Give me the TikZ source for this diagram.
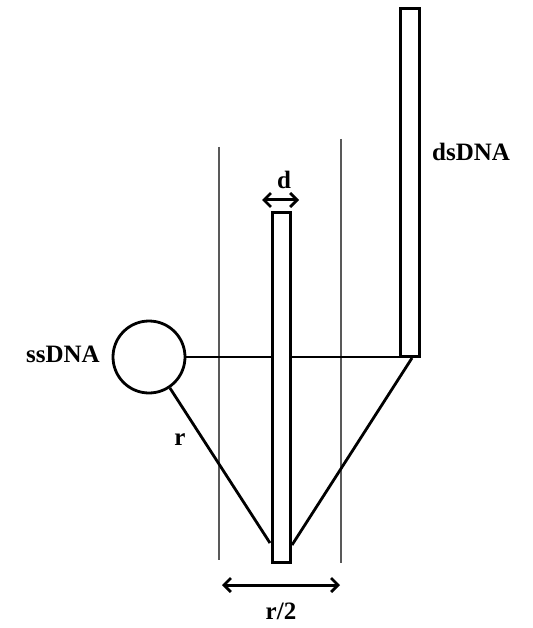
\documentclass[tikz,border=0pt]{standalone}
\usepackage{fontspec}
\setmainfont{Liberation Serif}
\usetikzlibrary{arrows.meta}
\begin{document}
\begin{tikzpicture}[x=1pt,y=-1pt,
  bar/.style={draw=black,line width=2.8pt,minimum width=19pt,inner sep=0pt,fill=white},
  heavy/.style={line width=2.8pt},
  guide/.style={line width=1.2pt,draw=black!65},
  dim/.style={line width=3pt,{Straight Barb[length=7pt,width=14pt,line width=2.8pt]}-{Straight Barb[length=7pt,width=14pt,line width=2.8pt]}},
  lbl/.style={font=\bfseries\fontsize{25}{28}\selectfont,inner sep=0pt}]
\useasboundingbox (0,0) rectangle (532,628);
% guide lines
\coordinate (g1t) at (219,147); \coordinate (g1b) at (219,560);
\coordinate (g2t) at (341,139); \coordinate (g2b) at (341,563);
\draw[guide] (g1t) -- (g1b);
\draw[guide] (g2t) -- (g2b);
% bars
\node[bar,minimum height=348pt] (ds) at (410,182.5) {};
\node[bar,minimum width=18pt,minimum height=350pt] (mid) at (281.5,387.5) {};
\node[draw,line width=2.8pt,circle,minimum size=72pt,inner sep=0pt] (ss) at (149,357) {};
% horizontal strand
\draw[heavy] (ss.east) -- (mid.west |- ss.east);
\draw[heavy] (mid.east |- ss.east) -- (ds.south west |- ss.east);
% V lines
\coordinate (vl) at (270,543);
\coordinate (vr) at (292,545);
\coordinate (dsb) at (412,358);
\draw[heavy] (ss.-56) -- (vl);
\draw[heavy] (dsb) -- (vr);
% dimension arrows
\coordinate (d1) at (262,200); \coordinate (d2) at (299,200);
\draw[dim] (d1) -- (d2);
\coordinate (r1) at (222,585); \coordinate (r2) at (340,585);
\draw[dim] (r1) -- (r2);
% labels
\node[lbl] (ld) at (284,180) {d};
\node[lbl] (lr) at (180,440) {r};
\node[lbl] (lr2) at (281,611) {r/2};
\node[lbl,anchor=east] (lss) at (100,354) {ssDNA};
\node[lbl,anchor=west] (lds) at (432,152) {dsDNA};
\end{tikzpicture}
\end{document}
